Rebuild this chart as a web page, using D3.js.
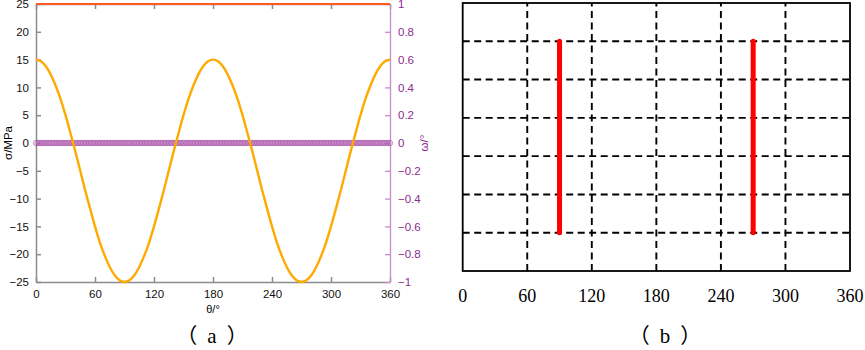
<!DOCTYPE html>
<html><head><meta charset="utf-8">
<script src="https://cdn.jsdelivr.net/npm/d3@7"></script>
<style>body{margin:0;background:#fff}svg{display:block}</style>
</head><body>
<svg id="c" width="865" height="350"></svg>
<script>
// ---- data ----
const thetaTicks = [0, 60, 120, 180, 240, 300, 360];
const sigmaTicks = [-25, -20, -15, -10, -5, 0, 5, 10, 15, 20, 25];
const omegaTicks = [-1, -0.8, -0.6, -0.4, -0.2, 0, 0.2, 0.4, 0.6, 0.8, 1];
const thetaPts = [0,5,10,15,20,25,30,35,40,45,50,55,60,65,70,75,80,85,90,
  95,100,105,110,115,120,125,130,135,140,145,150,155,160,165,170,175,180,
  185,190,195,200,205,210,215,220,225,230,235,240,245,250,255,260,265,270,
  275,280,285,290,295,300,305,310,315,320,325,330,335,340,345,350,355,360];
const sigmaNormal = [15,14.7,13.8,12.3,10.3,7.9,5,1.8,-1.5,-5,-8.5,-11.8,-15,-17.9,-20.3,-22.3,-23.8,-24.7,-25,
  -24.7,-23.8,-22.3,-20.3,-17.9,-15,-11.8,-8.5,-5,-1.5,1.8,5,7.9,10.3,12.3,13.8,14.7,15,
  14.7,13.8,12.3,10.3,7.9,5,1.8,-1.5,-5,-8.5,-11.8,-15,-17.9,-20.3,-22.3,-23.8,-24.7,-25,
  -24.7,-23.8,-22.3,-20.3,-17.9,-15,-11.8,-8.5,-5,-1.5,1.8,5,7.9,10.3,12.3,13.8,14.7,15];
const sigmaTop = [25, 25];
const sigmaTopTheta = [0, 360];
const omegaTheta = d3.range(0, 361, 3);
const omegaVals = omegaTheta.map(() => 0);
const crackTheta = [90, 270];
const crackFrom = [1, 1];
const crackTo = [6, 6];
const gridY = [1, 2, 3, 4, 5, 6];
const gridX = [60, 120, 180, 240, 300];

const svg = d3.select("#c");

// ---- panel (a) ----
const xa = d3.scaleLinear().domain([0, 360]).range([36, 390]);
const ya = d3.scaleLinear().domain([-25, 25]).range([282, 4]);
const yw = d3.scaleLinear().domain([-1, 1]).range([282, 4]);
const sans = "'Liberation Sans', Arial, sans-serif";

const ga = svg.append("g");
const axB = ga.append("g").attr("transform", `translate(0,${ya(-25)})`)
  .call(d3.axisBottom(xa).tickValues(thetaTicks).tickSizeInner(-5).tickSizeOuter(0).tickPadding(10));
const axT = ga.append("g").attr("transform", `translate(0,${ya(25)})`)
  .call(d3.axisTop(xa).tickValues(thetaTicks).tickSizeInner(-5).tickSizeOuter(0).tickFormat(""));
const axL = ga.append("g").attr("transform", `translate(${xa(0)},0)`)
  .call(d3.axisLeft(ya).tickValues(sigmaTicks).tickSizeInner(-5).tickSizeOuter(0).tickPadding(7));
[axB, axT, axL].forEach(a => {
  a.selectAll("path,line").attr("stroke", "#8c8c8c").attr("stroke-width", 1.5);
  a.selectAll("text").attr("font-family", sans).attr("font-size", 11.5).attr("fill", "#111");
});
axB.selectAll("text").attr("dy", "0.5em");
const axR = ga.append("g").attr("transform", `translate(${xa(360)},0)`)
  .call(d3.axisRight(yw).tickValues(omegaTicks).tickSizeInner(-5).tickSizeOuter(0).tickPadding(8).tickFormat(d3.format("")));
axR.selectAll("path,line").attr("stroke", "#c98ac9").attr("stroke-width", 1.3);
axR.selectAll("text").attr("font-family", sans).attr("font-size", 11.5).attr("fill", "#8e2b8e");

ga.append("path")
  .datum(sigmaTopTheta.map((t, i) => [t, sigmaTop[i]]))
  .attr("d", d3.line().x(d => xa(d[0])).y(d => ya(d[1])))
  .attr("fill", "none").attr("stroke", "#ff5a22").attr("stroke-width", 2.2);

const gw = ga.append("g");
gw.append("path")
  .datum(omegaTheta.map((t, i) => [t, omegaVals[i]]))
  .attr("d", d3.line().x(d => xa(d[0])).y(d => yw(d[1])))
  .attr("fill", "none").attr("stroke", "#b35fb3").attr("stroke-opacity", 0.55).attr("stroke-width", 6);
gw.selectAll("circle").data(omegaTheta).join("circle")
  .attr("cx", d => xa(d)).attr("cy", (d, i) => yw(omegaVals[i])).attr("r", 2.8)
  .attr("fill", "#c27ac2").attr("fill-opacity", 0.35)
  .attr("stroke", "#8a2d8a").attr("stroke-opacity", 0.5).attr("stroke-width", 0.7);

ga.append("path")
  .datum(thetaPts.map((t, i) => [t, sigmaNormal[i]]))
  .attr("d", d3.line().x(d => xa(d[0])).y(d => ya(d[1])).curve(d3.curveMonotoneX))
  .attr("fill", "none").attr("stroke", "#ffaa00").attr("stroke-width", 2.4);

ga.append("text").attr("transform", `translate(12,${ya(0)}) rotate(-90)`)
  .attr("text-anchor", "middle").attr("font-family", sans).attr("font-size", 11.5).text("σ/MPa");
ga.append("text").attr("transform", `translate(428,${ya(0)}) rotate(-90)`)
  .attr("text-anchor", "middle").attr("font-family", sans).attr("font-size", 11.5).attr("fill", "#8e2b8e").text("ω/°");
ga.append("text").attr("x", xa(180)).attr("y", 313).attr("text-anchor", "middle")
  .attr("font-family", sans).attr("font-size", 11).text("θ/°");

function caption(x, letter) {
  const t = svg.append("text").attr("x", x).attr("y", 343).attr("text-anchor", "middle")
    .attr("font-size", 21).attr("fill", "#000");
  t.append("tspan").attr("font-family", "'Noto Sans CJK SC', sans-serif").text("（");
  t.append("tspan").attr("dx", 10).attr("font-family", "'Liberation Serif', serif").text(letter);
  t.append("tspan").attr("dx", 10).attr("font-family", "'Noto Sans CJK SC', sans-serif").text("）");
}
caption(212, "a");

// ---- panel (b) ----
const xb = d3.scaleLinear().domain([0, 360]).range([462.7, 850]);
const yb = d3.scaleLinear().domain([0, 7]).range([271, 3]);
const gb = svg.append("g");
gb.selectAll("line.gy").data(gridY).join("line").attr("class", "gy")
  .attr("x1", xb(0)).attr("x2", xb(360)).attr("y1", d => yb(d)).attr("y2", d => yb(d))
  .attr("stroke", "#000").attr("stroke-width", 1.9).attr("stroke-dasharray", "7,4.5");
gb.selectAll("line.gx").data(gridX).join("line").attr("class", "gx")
  .attr("x1", d => xb(d)).attr("x2", d => xb(d)).attr("y1", yb(0)).attr("y2", yb(7))
  .attr("stroke", "#000").attr("stroke-width", 1.9).attr("stroke-dasharray", "7,4.5");
gb.selectAll("line.cr").data(crackTheta).join("line").attr("class", "cr")
  .attr("x1", d => xb(d)).attr("x2", d => xb(d))
  .attr("y1", (d, i) => yb(crackFrom[i])).attr("y2", (d, i) => yb(crackTo[i]))
  .attr("stroke", "#ff0000").attr("stroke-width", 5).attr("stroke-linecap", "round");
gb.append("rect").attr("x", xb(0)).attr("y", yb(7)).attr("width", xb(360) - xb(0)).attr("height", yb(0) - yb(7))
  .attr("fill", "none").attr("stroke", "#000").attr("stroke-width", 1.8);
gb.selectAll("text.xt").data(thetaTicks).join("text").attr("class", "xt")
  .attr("x", d => xb(d)).attr("y", 302).attr("text-anchor", "middle")
  .attr("font-family", "'Liberation Serif', 'Times New Roman', serif").attr("font-size", 18)
  .text(d => d);
caption(665, "b");
</script>
</body></html>
